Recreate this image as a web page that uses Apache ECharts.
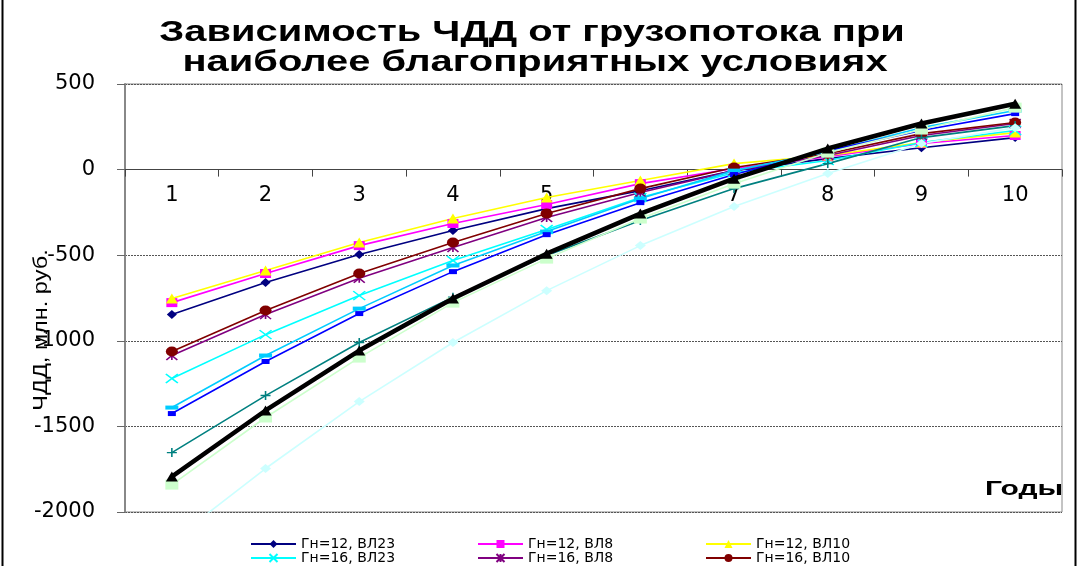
<!DOCTYPE html>
<html><head><meta charset="utf-8">
<script src="https://cdn.jsdelivr.net/npm/echarts@6/dist/echarts.min.js"></script>
<style>html,body{margin:0;padding:0;background:#fff}#c{width:1079px;height:566px}</style>
</head><body><div id="c"></div>
<script>
const years = ['1','2','3','4','5','6','7','8','9','10'];
const yTicks = [500, 0, -500, -1000, -1500, -2000];
const names = ['Гн=12, ВЛ23','Гн=12, ВЛ8','Гн=12, ВЛ10','Гн=16, ВЛ23','Гн=16, ВЛ8','Гн=16, ВЛ10',
  'Гн=20, ВЛ23','Гн=20, ВЛ8','Гн=20, ВЛ10','Гн=24, ВЛ23','Гн=24, ВЛ8','Гн=24, ВЛ10'];
const s1  = [-847, -660, -496, -356, -228, -123, -6, 64, 128, 187];
const s2  = [-777, -607, -444, -315, -204, -82, 6, 76, 152, 199];
const s3  = [-753, -590, -426, -286, -163, -64, 35, 82, 158, 216];
const s4  = [-1220, -964, -736, -531, -350, -163, -18, 53, 158, 228];
const s5  = [-1086, -847, -635, -455, -280, -134, -6, 82, 199, 269];
const s6  = [-1063, -823, -607, -426, -257, -111, 12, 93, 210, 275];
const s7  = [-1390, -1086, -812, -560, -362, -169, -6, 105, 245, 345];
const s8  = [-1425, -1121, -841, -596, -380, -193, -29, 111, 228, 327];
const s9  = [-1653, -1320, -1010, -745, -502, -298, -111, 35, 187, 257];
const s10 = [-1793, -1407, -1057, -753, -491, -257, -53, 123, 269, 385];
const s11 = [-1840, -1448, -1098, -777, -520, -286, -82, 99, 234, 362];
const s12 = [-2170, -1746, -1355, -1010, -707, -444, -216, -23, 152, 245];
const values = [s1,s2,s3,s4,s5,s6,s7,s8,s9,s10,s11,s12];
const colors = ['#000080','#FF00FF','#FFFF00','#00FFFF','#800080','#800000',
  '#00CCFF','#0000FF','#008080','#000000','#CCFFCC','#CCFFFF'];
const symbols = ['diamond','rect','triangle','path://M0 0L10 10M10 0L0 10','path://M0 0L10 10M10 0L0 10M5 0L5 10','circle',
  'rect','rect','path://M5 0L5 10M0 5L10 5','triangle','rect','diamond'];
const symSizes = [[10,9],[11,9],[12,10],[12,9],[11,9],[12,10],[13,4],[8,5],[10,9],[12,10],[13,10],[11,9]];

const chart = echarts.init(document.getElementById('c'));
const series = names.map((n,i)=>({
  name:n, type:'line', data:values[i], symbol:symbols[i], symbolSize:symSizes[i],
  clip:true,
  lineStyle:{color:colors[i], width: i===9?4.5:1.6},
  itemStyle:{color:colors[i], borderColor:colors[i], borderWidth:(i===3||i===4||i===8)?1.5:0},
  z: i===9?5:2
}));
const legendLefts = [250, 477, 705];
const legendTops = [537, 551];
const legends = [];
for (let i = 0; i < 6; i++) {
  legends.push({left: legendLefts[i % 3], top: legendTops[Math.floor(i / 3)], data:[names[i]],
    itemWidth:45, itemHeight:10, itemGap:0, padding:0,
    textStyle:{fontFamily:'DejaVu Sans', fontSize:14, lineHeight:14, color:'#000'}});
}
chart.setOption({
  animation:false,
  backgroundColor:'#fff',
  legend:legends,
  grid:{left:125, right:17, top:84, bottom:54, show:true, borderColor:'#888', borderWidth:1, backgroundColor:'transparent'},
  xAxis:{type:'category', data:years, boundaryGap:true, position:'bottom', offset:-342.4,
    axisLine:{onZero:false, lineStyle:{color:'#444', width:1}},
    axisTick:{show:true, inside:false, length:7, lineStyle:{color:'#444'}},
    axisLabel:{fontFamily:'DejaVu Sans', fontSize:21, color:'#000', margin:15},
    splitLine:{show:false}},
  yAxis:{type:'value', min:-2000, max:500, interval:500,
    axisLine:{show:true, onZero:false, lineStyle:{color:'#888', width:2}},
    axisTick:{show:true, length:8, lineStyle:{color:'#666'}},
    axisLabel:{fontFamily:'DejaVu Sans', fontSize:21, color:'#000', margin:30, formatter:v=>String(v)},
    splitLine:{show:true, lineStyle:{color:'#555', width:1, type:[2,1]}}},
  graphic:[
    {type:'line', shape:{x1:2.5,y1:0,x2:2.5,y2:566}, style:{stroke:'#000', lineWidth:2}, silent:true},
    {type:'line', shape:{x1:1075.5,y1:0,x2:1075.5,y2:566}, style:{stroke:'#000', lineWidth:2}, silent:true},
    {type:'text', x:532, y:33, scaleX:1.33, style:{text:'Зависимость ЧДД от грузопотока при', fontFamily:'Liberation Sans', fontWeight:'bold', fontSize:30, fill:'#000', align:'center', verticalAlign:'middle'}, z:10},
    {type:'text', x:535, y:63, scaleX:1.33, style:{text:'наиболее благоприятных условиях', fontFamily:'Liberation Sans', fontWeight:'bold', fontSize:30, fill:'#000', align:'center', verticalAlign:'middle'}, z:10},
    {type:'text', x:41, y:330, rotation:Math.PI/2, scaleX:1.12, style:{text:'ЧДД, млн. руб.', fontFamily:'Liberation Sans', fontSize:21, fill:'#000', align:'center', verticalAlign:'middle'}, z:10},
    {type:'text', x:985, y:489, scaleX:1.5, style:{text:'Годы', fontFamily:'Liberation Sans', fontWeight:'bold', fontSize:20, fill:'#000', align:'left', verticalAlign:'middle'}, z:10}
  ],
  series:series
});
</script></body></html>
